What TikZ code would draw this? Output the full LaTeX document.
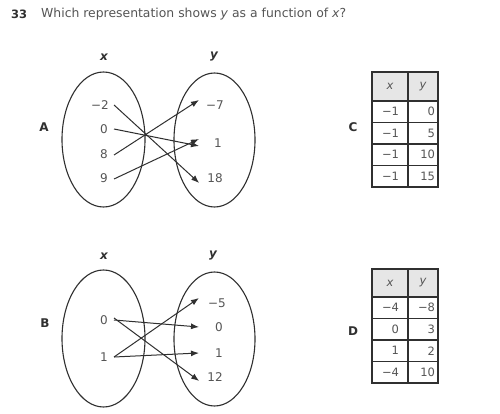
\documentclass[tikz,border=0pt]{standalone}
\usepackage{fontspec}
\setmainfont{DejaVu Sans}
\usetikzlibrary{arrows.meta}
\definecolor{dark}{HTML}{303030}
\definecolor{txt}{HTML}{555555}
\definecolor{hdr}{HTML}{E6E6E6}
\begin{document}
\begin{tikzpicture}[x=1pt,y=-1pt,
  val/.style={font=\fontsize{12}{14}\selectfont, text=txt, inner sep=1pt},
  axl/.style={font=\bfseries\itshape\fontsize{12}{14}\selectfont, text=dark},
  lbl/.style={font=\bfseries\fontsize{12}{14}\selectfont, text=dark},
  arr/.style={-{Latex[length=8pt,width=6pt]}, line width=1pt, draw=dark},
  oval/.style={draw=dark, line width=1.1pt},
  cellx/.style={draw=dark, line width=1.5pt, minimum width=36pt, text width=18pt, inner xsep=9pt, align=right, font=\fontsize{11.5}{13}\selectfont, text=txt, inner ysep=0pt},
  celly/.style={draw=dark, line width=1.5pt, minimum width=30pt, text width=24pt, inner xsep=3pt, align=right, font=\fontsize{11.5}{13}\selectfont, text=txt, inner ysep=0pt},
  hdrx/.style={draw=dark, line width=1.5pt, fill=hdr, minimum width=36pt, font=\itshape\fontsize{11.5}{13}\selectfont, text=txt, inner sep=0pt},
  hdry/.style={draw=dark, line width=1.5pt, fill=hdr, minimum width=30pt, font=\itshape\fontsize{11.5}{13}\selectfont, text=txt, inner sep=0pt}
]
\useasboundingbox[fill=white] (0,0) rectangle (500,414);

% title
\node[anchor=west, font=\bfseries\fontsize{11.5}{13}\selectfont, text=dark, inner sep=0pt] (num) at (11,14) {33};
\node[anchor=west, font=\fontsize{12.4}{14}\selectfont, text=txt, inner sep=0pt] (q) at (41,14) {Which representation shows \textit{y} as a function of \textit{x}?};

% ---------- A ----------
\node[lbl] (la) at (44,127) {A};
\node[axl] (ax) at (104,57) {x};
\node[axl] (ay) at (214,57) {y};
\draw[oval] (103.5,139.5) ellipse [x radius=41.5, y radius=67.5];
\draw[oval] (214.5,140) ellipse [x radius=40.5, y radius=67];
\node[val] (am2) at (100,105) {−2};
\node[val] (a0) at (104,129) {0};
\node[val] (a8) at (104,154) {8};
\node[val] (a9) at (104,178) {9};
\node[val] (bm7) at (215,105) {−7};
\node[val] (b1) at (218,143) {1};
\node[val] (b18) at (215,178) {18};
\draw[arr] ([xshift=4]am2.east) -- ([xshift=-7,yshift=-5]b18.west);
\draw[arr] ([xshift=5]a0.east) -- ([xshift=-14,yshift=-3]b1.west);
\draw[arr] ([xshift=5,yshift=-1]a8.east) -- ([xshift=-6,yshift=5]bm7.west);
\draw[arr] ([xshift=5,yshift=-1]a9.east) -- ([xshift=-14,yshift=4]b1.west);

% ---------- B ----------
\node[lbl] (lb) at (45,323) {B};
\node[axl] (bx) at (104,256) {x};
\node[axl] (by) at (213,256) {y};
\draw[oval] (103.5,338.5) ellipse [x radius=41.5, y radius=68.5];
\draw[oval] (214.5,339) ellipse [x radius=40.5, y radius=67];
\node[val] (c0) at (104,320) {0};
\node[val] (c1) at (104,357) {1};
\node[val] (dm5) at (217,303) {−5};
\node[val] (d0) at (219,327) {0};
\node[val] (d1) at (219,353) {1};
\node[val] (d12) at (215,377) {12};
\draw[arr] ([xshift=5]c0.east) -- ([xshift=-15]d0.west);
\draw[arr] ([xshift=5,yshift=2]c0.east) -- ([xshift=-7,yshift=-4]d12.west);
\draw[arr] ([xshift=5]c1.east) -- ([xshift=-8,yshift=5]dm5.west);
\draw[arr] ([xshift=5]c1.east) -- ([xshift=-15]d1.west);

% ---------- C ----------
\node[lbl] (lc) at (353,127) {C};
\node[hdrx, minimum height=29pt] (c-h1) at (390,86.5) {x};
\node[hdry, minimum height=29pt] (c-h2) at (423,86.5) {y};
\node[cellx, minimum height=21.5pt] (c-11) at (390,111.75) {−1};
\node[celly, minimum height=21.5pt] (c-12) at (423,111.75) {0};
\node[cellx, minimum height=21.5pt] (c-21) at (390,133.25) {−1};
\node[celly, minimum height=21.5pt] (c-22) at (423,133.25) {5};
\node[cellx, minimum height=21.5pt] (c-31) at (390,154.75) {−1};
\node[celly, minimum height=21.5pt] (c-32) at (423,154.75) {10};
\node[cellx, minimum height=21.5pt] (c-41) at (390,176.25) {−1};
\node[celly, minimum height=21.5pt] (c-42) at (423,176.25) {15};

% ---------- D ----------
\node[lbl] (ld) at (353,331) {D};
\node[hdrx, minimum height=28pt] (d-h1) at (390,283) {x};
\node[hdry, minimum height=28pt] (d-h2) at (423,283) {y};
\node[cellx, minimum height=21.5pt] (d-11) at (390,307.75) {−4};
\node[celly, minimum height=21.5pt] (d-12) at (423,307.75) {−8};
\node[cellx, minimum height=21.5pt] (d-21) at (390,329.25) {0};
\node[celly, minimum height=21.5pt] (d-22) at (423,329.25) {3};
\node[cellx, minimum height=21.5pt] (d-31) at (390,350.75) {1};
\node[celly, minimum height=21.5pt] (d-32) at (423,350.75) {2};
\node[cellx, minimum height=21.5pt] (d-41) at (390,372.25) {−4};
\node[celly, minimum height=21.5pt] (d-42) at (423,372.25) {10};
\end{tikzpicture}
\end{document}
